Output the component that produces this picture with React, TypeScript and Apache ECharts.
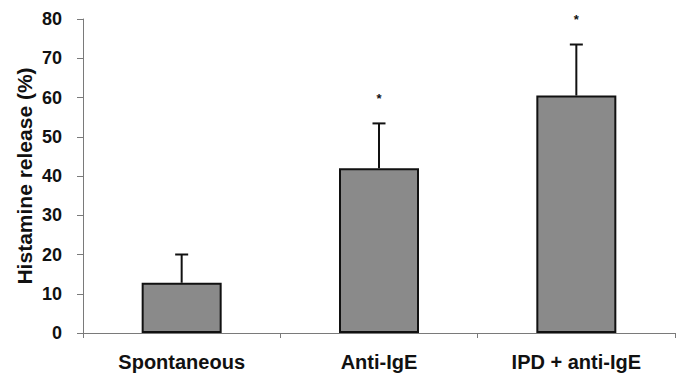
import React, { useEffect, useRef } from "react";
import * as echarts from "echarts";

const categories = ["Spontaneous", "Anti-IgE", "IPD + anti-IgE"];
const means = [12.8, 42.0, 60.5];
const errors = [7.2, 11.4, 13.0];
const marks = ["", "*", "*"];
const yTicks = [0, 10, 20, 30, 40, 50, 60, 70, 80];

const FONT = "'Liberation Sans', Arial, sans-serif";

export default function App() {
  const ref = useRef<HTMLDivElement>(null);
  useEffect(() => {
    if (!ref.current) return;
    const chart = echarts.init(ref.current, null, { renderer: "svg" });
    const errData = categories.map((c, i) => [i, means[i], means[i] + errors[i], marks[i]]);
    chart.setOption({
      animation: false,
      backgroundColor: "#ffffff",
      grid: { left: 83, right: 6, top: 19, bottom: 42 },
      xAxis: {
        type: "category",
        data: categories,
        axisLine: { lineStyle: { color: "#7a7a7a", width: 1 } },
        axisTick: { show: true, length: 5, lineStyle: { color: "#7a7a7a" } },
        axisLabel: { fontFamily: FONT, fontWeight: "bold", fontSize: 20, color: "#111", margin: 19 },
      },
      yAxis: {
        type: "value",
        min: yTicks[0],
        max: yTicks[yTicks.length - 1],
        interval: 10,
        name: "Histamine release (%)",
        nameLocation: "middle",
        nameGap: 48,
        nameMoveOverlap: false,
        nameTextStyle: { fontFamily: FONT, fontWeight: "bold", fontSize: 21, color: "#111" },
        axisLine: { show: true, lineStyle: { color: "#7a7a7a", width: 1 } },
        axisTick: { show: true, length: 6, lineStyle: { color: "#7a7a7a" } },
        axisLabel: { fontFamily: FONT, fontWeight: "bold", fontSize: 18, color: "#111", margin: 21 },
        splitLine: { show: false },
      },
      series: [
        {
          type: "bar",
          data: means,
          barWidth: 80,
          itemStyle: { color: "#8a8a8a", borderColor: "#111", borderWidth: 2 },
        },
        {
          type: "custom",
          data: errData,
          z: 10,
          renderItem: (params: any, api: any) => {
            const x = api.value(0);
            const base = api.coord([x, api.value(1)]);
            const top = api.coord([x, api.value(2)]);
            const mark = errData[params.dataIndex][3];
            const half = 6.5;
            const children: any[] = [
              { type: "line", shape: { x1: base[0], y1: base[1], x2: top[0], y2: top[1] }, style: { stroke: "#111", lineWidth: 2 } },
              { type: "line", shape: { x1: top[0] - half, y1: top[1], x2: top[0] + half, y2: top[1] }, style: { stroke: "#111", lineWidth: 2 } },
            ];
            if (mark) {
              children.push({
                type: "text",
                x: top[0],
                y: top[1] - 25,
                style: { text: mark, fontFamily: FONT, fontWeight: "bold", fontSize: 13, fill: "#111", align: "center", verticalAlign: "middle" },
              });
            }
            return { type: "group", children };
          },
        },
      ],
    });
    return () => chart.dispose();
  }, []);
  return <div ref={ref} style={{ position: "fixed", left: 0, top: 0, width: 681, height: 375 }} />;
}
